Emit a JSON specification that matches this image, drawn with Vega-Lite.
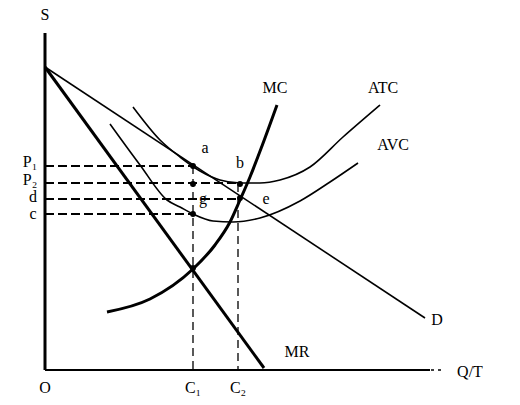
{
  "$schema": "https://vega.github.io/schema/vega-lite/v6.json",
  "width": 400,
  "height": 337,
  "autosize": {"type": "none"},
  "padding": {"left": 45, "top": 33, "right": 75, "bottom": 35},
  "background": "white",
  "config": {"view": {"stroke": null}},
  "layer": [
    {
      "data": {"values": [
        {"curve": "D", "x": 0, "y": 303}, {"curve": "D", "x": 380, "y": 52},
        {"curve": "ATC", "x": 88, "y": 263}, {"curve": "ATC", "x": 115, "y": 230}, {"curve": "ATC", "x": 135, "y": 213}, {"curve": "ATC", "x": 155, "y": 199}, {"curve": "ATC", "x": 175, "y": 190}, {"curve": "ATC", "x": 195, "y": 187}, {"curve": "ATC", "x": 215, "y": 187}, {"curve": "ATC", "x": 235, "y": 190}, {"curve": "ATC", "x": 265, "y": 203}, {"curve": "ATC", "x": 298, "y": 233}, {"curve": "ATC", "x": 335, "y": 265},
        {"curve": "AVC", "x": 65, "y": 246}, {"curve": "AVC", "x": 95, "y": 205}, {"curve": "AVC", "x": 122, "y": 170}, {"curve": "AVC", "x": 135, "y": 163}, {"curve": "AVC", "x": 148, "y": 156}, {"curve": "AVC", "x": 168, "y": 149}, {"curve": "AVC", "x": 188, "y": 148}, {"curve": "AVC", "x": 215, "y": 152}, {"curve": "AVC", "x": 255, "y": 169}, {"curve": "AVC", "x": 285, "y": 188}, {"curve": "AVC", "x": 313, "y": 207}
      ]},
      "mark": {"type": "line", "interpolate": "monotone", "color": "black", "strokeWidth": 1.6},
      "encoding": {
        "x": {"field": "x", "type": "quantitative", "scale": {"domain": [0, 400], "nice": false, "zero": false}, "axis": null},
        "y": {"field": "y", "type": "quantitative", "scale": {"domain": [0, 337], "nice": false, "zero": false}, "axis": null},
        "detail": {"field": "curve"}
      }
    },
    {
      "data": {"values": [
        {"curve": "MR", "x": 0, "y": 303}, {"curve": "MR", "x": 219, "y": 2},
        {"curve": "MC", "x": 62, "y": 58}, {"curve": "MC", "x": 105, "y": 71}, {"curve": "MC", "x": 148, "y": 101}, {"curve": "MC", "x": 170, "y": 125}, {"curve": "MC", "x": 185, "y": 148}, {"curve": "MC", "x": 195, "y": 170}, {"curve": "MC", "x": 205, "y": 193}, {"curve": "MC", "x": 217, "y": 224}, {"curve": "MC", "x": 232, "y": 265}
      ]},
      "mark": {"type": "line", "interpolate": "monotone", "color": "black", "strokeWidth": 3},
      "encoding": {
        "x": {"field": "x", "type": "quantitative"},
        "y": {"field": "y", "type": "quantitative"},
        "detail": {"field": "curve"}
      }
    },
    {
      "data": {"values": [
        {"x": 0, "y": 204, "x2": 148, "y2": 204},
        {"x": 0, "y": 187, "x2": 195, "y2": 187},
        {"x": 0, "y": 171, "x2": 195, "y2": 171},
        {"x": 0, "y": 156, "x2": 148, "y2": 156}
      ]},
      "mark": {"type": "rule", "color": "black", "strokeWidth": 2, "strokeDash": [9, 4]},
      "encoding": {
        "x": {"field": "x", "type": "quantitative"},
        "y": {"field": "y", "type": "quantitative"},
        "x2": {"field": "x2"},
        "y2": {"field": "y2"}
      }
    },
    {
      "data": {"values": [
        {"x": 148, "y": 204, "x2": 148, "y2": 0},
        {"x": 193, "y": 186, "x2": 193, "y2": 0}
      ]},
      "mark": {"type": "rule", "color": "black", "strokeWidth": 1.3, "strokeDash": [8, 5]},
      "encoding": {
        "x": {"field": "x", "type": "quantitative"},
        "y": {"field": "y", "type": "quantitative"},
        "x2": {"field": "x2"},
        "y2": {"field": "y2"}
      }
    },
    {
      "data": {"values": [
        {"x": 0, "y": 0, "x2": 0, "y2": 337}
      ]},
      "mark": {"type": "rule", "color": "black", "strokeWidth": 3},
      "encoding": {
        "x": {"field": "x", "type": "quantitative"},
        "y": {"field": "y", "type": "quantitative"},
        "x2": {"field": "x2"},
        "y2": {"field": "y2"}
      }
    },
    {
      "data": {"values": [
        {"x": 0, "y": 0, "x2": 385, "y2": 0}
      ]},
      "mark": {"type": "rule", "color": "black", "strokeWidth": 2},
      "encoding": {
        "x": {"field": "x", "type": "quantitative"},
        "y": {"field": "y", "type": "quantitative"},
        "x2": {"field": "x2"},
        "y2": {"field": "y2"}
      }
    },
    {
      "data": {"values": [
        {"x": 386, "y": 0, "x2": 400, "y2": 0}
      ]},
      "mark": {"type": "rule", "color": "black", "strokeWidth": 1.5, "strokeDash": [3, 4]},
      "encoding": {
        "x": {"field": "x", "type": "quantitative"},
        "y": {"field": "y", "type": "quantitative"},
        "x2": {"field": "x2"},
        "y2": {"field": "y2"}
      }
    },
    {
      "data": {"values": [
        {"x": 148, "y": 186}, {"x": 148, "y": 156}, {"x": 195, "y": 186}, {"x": 195, "y": 172}, {"x": 148, "y": 102}, {"x": 148, "y": 204}
      ]},
      "mark": {"type": "point", "filled": true, "color": "black", "size": 35, "opacity": 1},
      "encoding": {
        "x": {"field": "x", "type": "quantitative"},
        "y": {"field": "y", "type": "quantitative"}
      }
    },
    {
      "data": {"values": [
        {"t": "S", "x": 0, "y": 355},
        {"t": "O", "x": 0, "y": -18},
        {"t": "C₁", "x": 148, "y": -18},
        {"t": "C₂", "x": 193, "y": -18},
        {"t": "P₁", "x": -15, "y": 208},
        {"t": "P₂", "x": -15, "y": 190},
        {"t": "d", "x": -12, "y": 173},
        {"t": "c", "x": -12, "y": 156},
        {"t": "a", "x": 160, "y": 222},
        {"t": "b", "x": 195, "y": 207},
        {"t": "g", "x": 158, "y": 171},
        {"t": "e", "x": 221, "y": 171},
        {"t": "MC", "x": 230, "y": 282},
        {"t": "ATC", "x": 338, "y": 282},
        {"t": "AVC", "x": 348, "y": 225},
        {"t": "D", "x": 392, "y": 50},
        {"t": "MR", "x": 252, "y": 18},
        {"t": "Q/T", "x": 425, "y": -2}
      ]},
      "mark": {"type": "text", "font": "Liberation Serif", "fontSize": 16, "color": "black", "align": "center", "baseline": "middle"},
      "encoding": {
        "x": {"field": "x", "type": "quantitative"},
        "y": {"field": "y", "type": "quantitative"},
        "text": {"field": "t"}
      }
    }
  ]
}
